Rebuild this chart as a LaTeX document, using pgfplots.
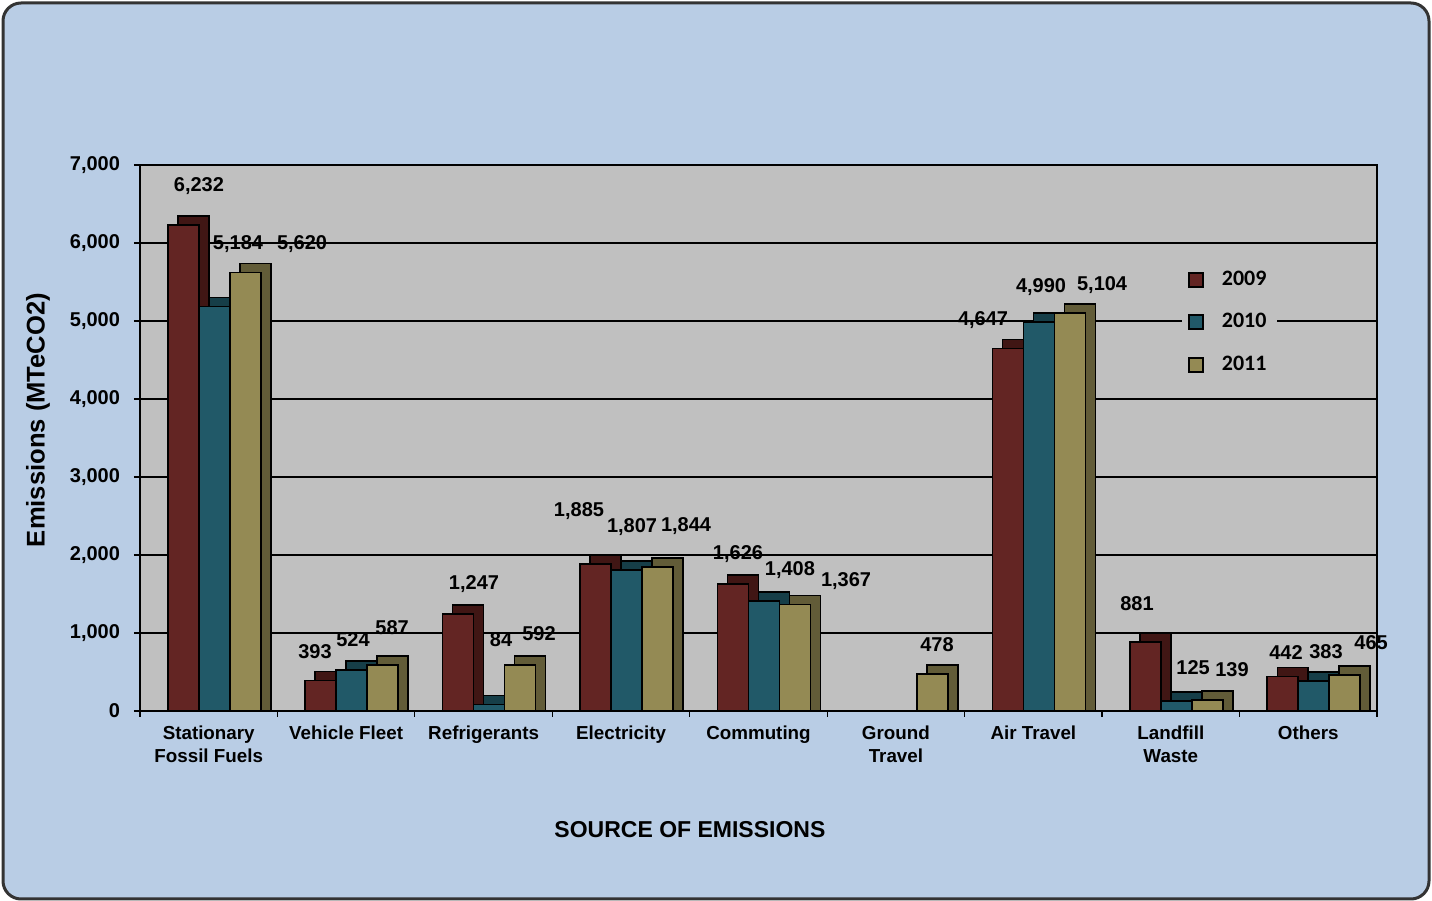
\documentclass[border=0pt]{standalone}
\usepackage{fontspec}
\setmainfont{Liberation Sans}
\newfontfamily\legfont{Carlito}
\usepackage{pgfplots}
\usepackage{pgfplotstable}
\pgfplotsset{compat=1.18}
\definecolor{bg}{RGB}{185,205,229}
\definecolor{wall}{RGB}{192,192,192}
\definecolor{cA}{RGB}{99,37,35}
\definecolor{cB}{RGB}{33,89,104}
\definecolor{cC}{RGB}{148,138,84}
\definecolor{dA}{RGB}{64,22,20}
\definecolor{dB}{RGB}{22,62,72}
\definecolor{dC}{RGB}{98,92,56}

\pgfplotstableread{
x y
0 6232
1 393
2 1247
3 1885
4 1626
6 4647
7 881
8 442
}\dataA
\pgfplotstableread{
x y
0 5184
1 524
2 84
3 1807
4 1408
6 4990
7 125
8 383
}\dataB
\pgfplotstableread{
x y
0 5620
1 587
2 592
3 1844
4 1367
5 478
6 5104
7 139
8 465
}\dataC
\pgfplotstableread{
x y label
-0.071 6731 6,232
0.213 5987 5,184
0.679 5987 5,620
0.773 756 393
1.050 910 524
1.334 1064 587
1.930 1628 1,247
2.127 910 84
2.403 987 592
2.694 2564 1,885
3.080 2359 1,807
3.473 2372 1,844
3.851 2013 1,626
4.229 1808 1,408
4.637 1667 1,367
5.299 846 478
5.634 5013 4,647
6.056 5436 4,990
6.500 5461 5,104
6.754 1372 881
7.162 551 125
7.445 526 139
7.838 756 442
8.129 756 383
8.457 872 465
}\labeldata

\begin{document}
\begin{tikzpicture}
\useasboundingbox (0,0) rectangle (716pt,450.5pt);
\draw[fill=bg, draw=black!80, line width=1.5pt, rounded corners=9pt] (1.5pt,1pt) rectangle (714.5pt,449pt);
\begin{axis}[
  at={(70pt,95pt)}, anchor=south west,
  scale only axis, width=618.5pt, height=273pt,
  xmin=-0.5, xmax=8.5, ymin=0, ymax=7000,
  axis background/.style={fill=wall},
  axis line style={black, line width=0.8pt},
  ytick={0,1000,...,7000},
  ymajorgrids, grid style={black, line width=0.8pt},
  xtick={0,...,8},
  xticklabels={Stationary\\Fossil Fuels, Vehicle Fleet, Refrigerants, Electricity, Commuting, Ground\\Travel, Air Travel, Landfill\\Waste, Others},
  minor xtick={-0.5,0.5,...,8.5},
  tick align=outside,
  x tick style={draw=none},
  minor x tick style={draw=black, line width=0.6pt},
  minor tick length=3pt,
  y tick style={black, line width=0.6pt},
  major tick length=3pt,
  xtick pos=bottom, ytick pos=left,
  xticklabel style={align=center, font=\bfseries\fontsize{9.4}{11.5}\selectfont, yshift=-1pt},
  yticklabel style={font=\bfseries\fontsize{10}{12}\selectfont, xshift=-3.5pt},
  /pgf/number format/assume math mode=true,
  /pgf/number format/1000 sep={,},
  scaled y ticks=false,
  ylabel={Emissions (MTeCO2)},
  ylabel style={at={(axis description cs:-0.0825,0.533)}, anchor=center, font=\bfseries\fontsize{12.8}{15}\selectfont},
  xlabel={SOURCE OF EMISSIONS},
  xlabel style={at={(axis description cs:0.4446,-0.218)}, anchor=center, font=\bfseries\fontsize{11.5}{14}\selectfont},
  bar width=0.2255,
  legend style={at={(0.842,0.825)}, anchor=north west, fill=wall, draw=none,
    font=\legfont\bfseries\fontsize{11}{13}\selectfont, row sep=8.5pt, inner sep=3pt,
    /tikz/every odd column/.append style={column sep=7pt},
    /tikz/every even column/.append style={column sep=28pt}},
  legsq/.style={legend image code/.code={\draw[##1, draw=black, line width=1pt] (0pt,-3.5pt) rectangle (7pt,3.5pt);}},
]
% depth faces
\addplot[ybar, bar shift=-0.1125, fill=dA, draw=black, line width=0.8pt, forget plot] table[x=x, y expr=\thisrow{y}+115] {\dataA};
\addplot[ybar, bar shift=0.113, fill=dB, draw=black, line width=0.8pt, forget plot] table[x=x, y expr=\thisrow{y}+115] {\dataB};
\addplot[ybar, bar shift=0.3385, fill=dC, draw=black, line width=0.8pt, forget plot] table[x=x, y expr=\thisrow{y}+115] {\dataC};
% front faces
\addplot[ybar, bar shift=-0.1855, fill=cA, draw=black, line width=0.8pt, legsq] table[x=x, y=y] {\dataA};
\addlegendentry{2009}
\addplot[ybar, bar shift=0.04, fill=cB, draw=black, line width=0.8pt, legsq] table[x=x, y=y] {\dataB};
\addlegendentry{2010}
\addplot[ybar, bar shift=0.2655, fill=cC, draw=black, line width=0.8pt, legsq] table[x=x, y=y] {\dataC};
\addlegendentry{2011}
% value labels
\addplot[draw=none, mark=none, forget plot, nodes near coords, point meta=explicit symbolic,
  every node near coord/.append style={anchor=center, font=\bfseries\fontsize{10}{12}\selectfont, black}]
  table[x=x, y=y, meta=label] {\labeldata};
\end{axis}
\end{tikzpicture}
\end{document}
